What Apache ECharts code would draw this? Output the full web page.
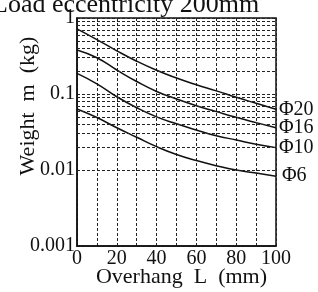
<!DOCTYPE html>
<html>
<head>
<meta charset="utf-8">
<script src="https://cdn.jsdelivr.net/npm/echarts@6/dist/echarts.min.js"></script>
<style>
  html, body { margin: 0; padding: 0; background: #fff; }
  #chart { width: 318px; height: 292px; }
</style>
</head>
<body>
<div id="chart"></div>
<script>
// overhang L (mm)
var overhang = [0, 10, 20, 30, 40, 50, 60, 70, 80, 90, 100];
// weight m (kg)
var phi20 = [0.72, 0.52, 0.37, 0.27, 0.205, 0.162, 0.132, 0.11, 0.0905, 0.0755, 0.063];
var phi16 = [0.38, 0.30, 0.207, 0.146, 0.108, 0.086, 0.070, 0.0586, 0.0493, 0.042, 0.036];
var phi10 = [0.187, 0.136, 0.092, 0.066, 0.050, 0.0405, 0.0336, 0.0283, 0.0248, 0.0218, 0.0197];
var phi6 = [0.0635, 0.049, 0.036, 0.027, 0.0203, 0.016, 0.0133, 0.0114, 0.0100, 0.0091, 0.0083];
var seriesNames = ['Φ20', 'Φ16', 'Φ10', 'Φ6'];
// log grid lines between the decades
var minorGrid = [
    0.002, 0.003, 0.004, 0.005, 0.006, 0.007, 0.008, 0.009,
    0.02, 0.03, 0.04, 0.05, 0.06, 0.07, 0.08, 0.09,
    0.2, 0.3, 0.4, 0.5, 0.6, 0.7, 0.8, 0.9
];
var xTicks = [0, 20, 40, 60, 80, 100];

var font = 'Liberation Serif';
var dash = { color: '#222', width: 1, type: [3, 2] };

function pairs(ys) {
    return overhang.map(function (x, i) { return [x, ys[i]]; });
}

function curve(name, ys, dist) {
    return {
        name: name,
        type: 'line',
        data: pairs(ys),
        smooth: 0.5,
        symbol: 'none',
        lineStyle: { color: '#111', width: 1.5 },
        endLabel: {
            show: true,
            formatter: '{a}',
            color: '#111',
            fontFamily: font,
            fontSize: 20,
            distance: dist
        },
        z: 3
    };
}

var myChart = echarts.init(document.getElementById('chart'));

var series = [
    curve(seriesNames[0], phi20, 3),
    curve(seriesNames[1], phi16, 3),
    curve(seriesNames[2], phi10, 3),
    curve(seriesNames[3], phi6, 6)
];
// minor horizontal grid drawn as mark lines on the first curve
series[0].markLine = {
    silent: true,
    symbol: 'none',
    animation: false,
    label: { show: false },
    lineStyle: dash,
    data: minorGrid.map(function (v) { return { yAxis: v }; })
};

var option = {
    animation: false,
    backgroundColor: '#fff',
    title: {
        text: 'Load eccentricity 200mm',
        left: -8,
        top: -8,
        padding: 0,
        textStyle: { fontFamily: font, fontSize: 26, fontWeight: 'normal', color: '#111' }
    },
    grid: {
        left: 77, right: 42, top: 18, bottom: 46,
        outerBoundsMode: 'none',
        containLabel: false,
        show: true,
        borderColor: '#111',
        borderWidth: 1.5
    },
    xAxis: {
        type: 'value',
        min: 0,
        max: 100,
        interval: 10,
        name: 'Overhang  L  (mm)',
        nameLocation: 'middle',
        nameGap: 20,
        nameMoveOverlap: false,
        nameTextStyle: { fontFamily: font, fontSize: 22, color: '#111', padding: [0, 0, 0, 10] },
        axisLine: { show: true, lineStyle: { color: '#111', width: 1.5 } },
        axisTick: { show: false },
        axisLabel: {
            margin: 3,
            fontFamily: font,
            fontSize: 20,
            color: '#111',
            formatter: function (v) { return xTicks.indexOf(v) >= 0 ? String(v) : ''; }
        },
        splitLine: { show: true, lineStyle: dash }
    },
    yAxis: {
        type: 'log',
        logBase: 10,
        min: 0.001,
        max: 1,
        name: 'Weight  m  (kg)',
        nameLocation: 'middle',
        nameGap: 38,
        nameMoveOverlap: false,
        nameTextStyle: { fontFamily: font, fontSize: 22, color: '#111', padding: [0, 0, 0, 52] },
        axisLine: { show: true, lineStyle: { color: '#111', width: 1.5 } },
        axisTick: { show: false },
        axisLabel: {
            margin: 2,
            fontFamily: font,
            fontSize: 20,
            color: '#111'
        },
        splitLine: { show: true, lineStyle: dash }
    },
    series: series
};

myChart.setOption(option);
</script>
</body>
</html>
